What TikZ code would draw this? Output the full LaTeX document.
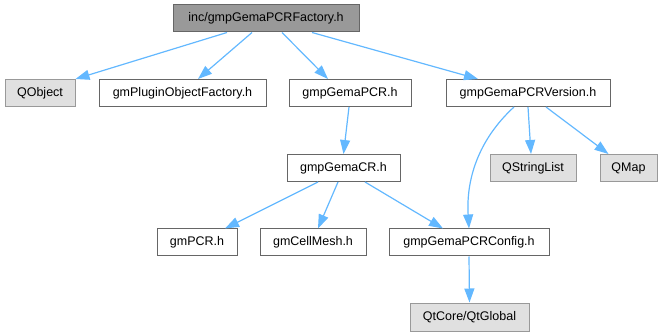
\documentclass[tikz,border=0pt]{standalone}
\usepackage{fontspec}
\setmainfont{Liberation Sans}
\usetikzlibrary{arrows.meta,calc}
\definecolor{edgeblue}{HTML}{63B8FF}
\definecolor{boxline}{HTML}{666666}
\definecolor{rootfill}{HTML}{999999}
\definecolor{extfill}{HTML}{E0E0E0}
\definecolor{extline}{HTML}{999999}
\tikzset{
  header/.style={draw=boxline,fill=white,rectangle,line width=1pt,minimum height=27pt,inner sep=0pt,font=\fontsize{12.5}{14}\selectfont},
  rootbox/.style={header,fill=rootfill},
  extbox/.style={header,draw=extline,fill=extfill},
  incl/.style={->,draw=edgeblue,line width=1.2pt}
}

\begin{document}
\begin{tikzpicture}[x=1pt,y=-1pt,>={Triangle[length=14pt,width=10pt]}]
  \useasboundingbox (0,0) rectangle (663,336);
  \node[rootbox,minimum width=186pt] (factory) at (266,18.5) {inc/gmpGemaPCRFactory.h};
  \node[extbox,minimum width=70pt] (qobject) at (40,93) {QObject};
  \node[header,minimum width=167pt] (pluginfac) at (182.5,93) {gmPluginObjectFactory.h};
  \node[header,minimum width=122pt] (gemapcr) at (350,93) {gmpGemaPCR.h};
  \node[header,minimum width=164pt] (version) at (528,93) {gmpGemaPCRVersion.h};
  \node[header,minimum width=113pt] (gemacr) at (343.5,168) {gmpGemaCR.h};
  \node[extbox,minimum width=86pt] (qstrlist) at (533,168) {QStringList};
  \node[extbox,minimum width=57pt] (qmap) at (628.5,168) {QMap};
  \node[header,minimum width=80pt] (gmpcr) at (197,242.5) {gmPCR.h};
  \node[header,minimum width=106pt] (cellmesh) at (313,242.5) {gmCellMesh.h};
  \node[header,minimum width=160pt] (config) at (469,242.5) {gmpGemaPCRConfig.h};
  \node[extbox,minimum width=119pt,minimum height=28pt] (qtglobal) at (469.5,317) {QtCore/QtGlobal};
  \draw[incl] ([xshift=-39pt]factory.south) -- (qobject.north east);
  \draw[incl] ([xshift=-14pt]factory.south) -- ([xshift=15.5pt]pluginfac.north);
  \draw[incl] ([xshift=16pt]factory.south) -- ([xshift=-22pt]gemapcr.north);
  \draw[incl] ([xshift=46pt]factory.south) -- ([xshift=-50pt]version.north);
  \draw[incl] ([xshift=-1pt]gemapcr.south) -- (gemacr.north);
  \draw[incl] (version.south) -- ([xshift=-2pt]qstrlist.north);
  \draw[incl] ([xshift=18pt]version.south) -- ([xshift=-20pt]qmap.north);
  \draw[incl] ([xshift=-14pt]version.south) .. controls (478,140) and (466,180) .. (config.north);
  \draw[incl] ([xshift=-25.5pt]gemacr.south) -- ([xshift=28pt]gmpcr.north);
  \draw[incl] ([xshift=-5.5pt]gemacr.south) -- ([xshift=5pt]cellmesh.north);
  \draw[incl] ([xshift=21.5pt]gemacr.south) -- ([xshift=-26pt]config.north);
  \draw[incl] (config.south) -- (qtglobal.north);
\end{tikzpicture}
\end{document}
